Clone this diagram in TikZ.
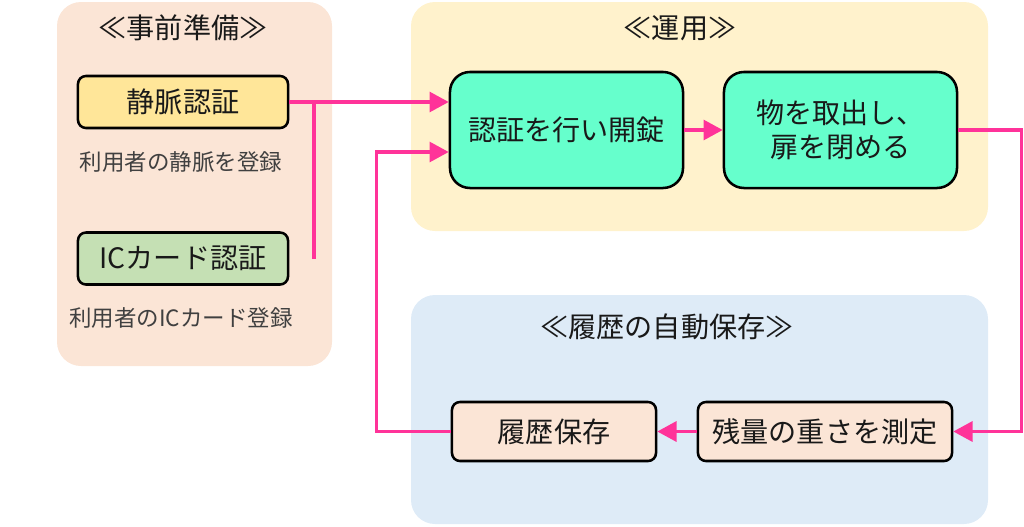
\documentclass[tikz,border=0pt]{standalone}
\usepackage{fontspec}
\setmainfont{Noto Sans CJK JP}
\usetikzlibrary{arrows.meta}

\definecolor{prepbg}{HTML}{FBE5D6}
\definecolor{usebg}{HTML}{FFF2CC}
\definecolor{logbg}{HTML}{DEEBF7}
\definecolor{veinfill}{HTML}{FFE699}
\definecolor{cardfill}{HTML}{C5E0B4}
\definecolor{mintfill}{HTML}{66FFCC}
\definecolor{flowpink}{HTML}{FF3399}

\begin{document}
\begin{tikzpicture}[x=0.025cm, y=-0.025cm,
    >={Triangle[length=0.48cm, width=0.5cm]},
    panel/.style={fill=#1, rounded corners=0.6cm},
    main node/.style={draw=black, line width=1.8pt, rounded corners=0.2cm,
        minimum width=5.25cm, minimum height=1.3cm, inner sep=0pt,
        font=\fontsize{20}{24}\selectfont, text=black!90},
    big node/.style={main node, rounded corners=0.5cm,
        minimum width=5.825cm, minimum height=2.9cm, fill=mintfill, align=center},
    log node/.style={main node, minimum height=1.475cm, fill=prepbg},
    title node/.style={font=\fontsize{20}{24}\selectfont, text=black!90},
    note node/.style={font=\fontsize{16}{19}\selectfont, text=black!75},
    flow/.style={draw=flowpink, line width=2.2pt}]

    \useasboundingbox (0,0) rectangle (1024,526);

    % background panels
    \fill[panel=prepbg] (57,2) rectangle (332,366);
    \fill[panel=usebg] (411,2) rectangle (988,231);
    \fill[panel=logbg] (411,295) rectangle (988,524);

    % panel titles
    \node[title node] (prepT) at (183,28) {≪事前準備≫};
    \node[title node] (useT) at (680,28) {≪運用≫};
    \node[title node] (logT) at (667,327) {≪履歴の自動保存≫};

    % preparation
    \node[main node, fill=veinfill] (vein) at (183,102) {静脈認証};
    \node[note node] (veinN) at (181,162) {利用者の静脈を登録};
    \node[main node, fill=cardfill] (card) at (183,258.5) {ICカード認証};
    \node[note node] (cardN) at (181,318) {利用者のICカード登録};

    % operation
    \node[big node] (unlock) at (566.5,130) {認証を行い開錠};
    \node[big node] (takeout) at (840.5,130) {物を取出し、\\扉を閉める};

    % log saving
    \node[log node, minimum width=5.1cm] (save) at (554,431.5) {履歴保存};
    \node[log node, minimum width=6.35cm] (weigh) at (825,431.5) {残量の重さを測定};

    % connectors
    \draw[flow, ->] (vein.east) -- (vein.east -| unlock.west);
    \coordinate (join) at (314,102);
    \draw[flow] (join) -- (join |- card.east);
    \draw[flow, ->] (unlock.east) -- (takeout.west);
    \draw[flow, ->] (takeout.east) -- ++(63,0) |- (weigh.east);
    \draw[flow, ->] (weigh.west) -- (save.east);
    \draw[flow, ->] (save.west) -- ++(-74,0) |- ([yshift=-0.55cm]unlock.west);

\end{tikzpicture}
\end{document}
